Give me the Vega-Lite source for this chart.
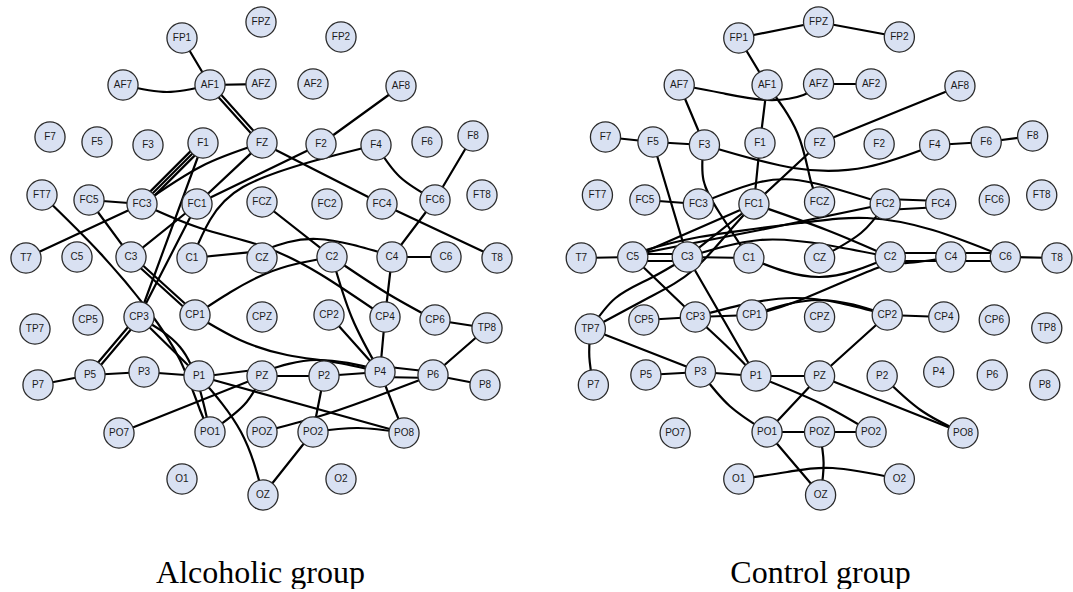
{
"$schema": "https://vega.github.io/schema/vega-lite/v6.json",
"padding": 0,
"background": "white",
"spacing": 40,
"bounds": "flush",
"config": {"view": {"stroke": null}},
"datasets": {
"nodes": [
{"n":"FP1","x":182,"y":38},{"n":"FPZ","x":261,"y":22},{"n":"FP2","x":341,"y":37},
{"n":"AF7","x":123,"y":85},{"n":"AF1","x":210,"y":85},{"n":"AFZ","x":261,"y":84},{"n":"AF2","x":313,"y":84},{"n":"AF8","x":401,"y":86},
{"n":"F7","x":50,"y":137},{"n":"F5","x":97,"y":142},{"n":"F3","x":148,"y":145},{"n":"F1","x":203,"y":143},{"n":"FZ","x":262,"y":143},{"n":"F2","x":321,"y":144},{"n":"F4","x":376,"y":145},{"n":"F6","x":427,"y":142},{"n":"F8","x":473,"y":136},
{"n":"FT7","x":42,"y":195},{"n":"FC5","x":89,"y":200},{"n":"FC3","x":142,"y":204},{"n":"FC1","x":197,"y":204},{"n":"FCZ","x":262,"y":202},{"n":"FC2","x":327,"y":204},{"n":"FC4","x":382,"y":204},{"n":"FC6","x":435,"y":200},{"n":"FT8","x":482,"y":195},
{"n":"T7","x":26,"y":258},{"n":"C5","x":77,"y":257},{"n":"C3","x":131,"y":257},{"n":"C1","x":192,"y":258},{"n":"CZ","x":262,"y":258},{"n":"C2","x":332,"y":257},{"n":"C4","x":392,"y":257},{"n":"C6","x":446,"y":257},{"n":"T8","x":497,"y":258},
{"n":"TP7","x":35,"y":329},{"n":"CP5","x":88,"y":320},{"n":"CP3","x":139,"y":317},{"n":"CP1","x":195,"y":315},{"n":"CPZ","x":262,"y":317},{"n":"CP2","x":329,"y":315},{"n":"CP4","x":385,"y":317},{"n":"CP6","x":435,"y":320},{"n":"TP8","x":487,"y":328},
{"n":"P7","x":38,"y":385},{"n":"P5","x":90,"y":375},{"n":"P3","x":144,"y":372},{"n":"P1","x":199,"y":376},{"n":"PZ","x":262,"y":376},{"n":"P2","x":324,"y":376},{"n":"P4","x":380,"y":372},{"n":"P6","x":433,"y":375},{"n":"P8","x":485,"y":385},
{"n":"PO7","x":119,"y":433},{"n":"PO1","x":210,"y":432},{"n":"POZ","x":262,"y":432},{"n":"PO2","x":313,"y":432},{"n":"PO8","x":404,"y":433},
{"n":"O1","x":182,"y":479},{"n":"OZ","x":263,"y":495},{"n":"O2","x":341,"y":479}
],
"alc": [
{"e":"L1","o":0,"x":182,"y":38},{"e":"L1","o":1,"x":210,"y":85},
{"e":"L2","o":0,"x":123,"y":85},{"e":"L2","o":1,"x":167,"y":92},{"e":"L2","o":2,"x":210,"y":85},
{"e":"L3","o":0,"x":210,"y":85},{"e":"L3","o":1,"x":261,"y":84},
{"e":"L4","o":0,"x":211.3,"y":83.8},{"e":"L4","o":1,"x":263.3,"y":141.8},
{"e":"L5","o":0,"x":208.7,"y":86.2},{"e":"L5","o":1,"x":260.7,"y":144.2},
{"e":"L6","o":0,"x":262,"y":143},{"e":"L6","o":1,"x":382,"y":204},
{"e":"L7","o":0,"x":401,"y":86},{"e":"L7","o":1,"x":321,"y":144},
{"e":"L8","o":0,"x":321,"y":144},{"e":"L8","o":1,"x":197,"y":204},
{"e":"L9","o":0,"x":376,"y":145},{"e":"L9","o":1,"x":310,"y":162},{"e":"L9","o":2,"x":243,"y":187},{"e":"L9","o":3,"x":210,"y":220},{"e":"L9","o":4,"x":192,"y":258},
{"e":"L10","o":0,"x":262,"y":143},{"e":"L10","o":1,"x":202,"y":166},{"e":"L10","o":2,"x":142,"y":204},
{"e":"L11","o":0,"x":200.9,"y":140.9},{"e":"L11","o":1,"x":139.9,"y":201.9},
{"e":"L12","o":0,"x":203,"y":143},{"e":"L12","o":1,"x":142,"y":204},
{"e":"L13","o":0,"x":205.1,"y":145.1},{"e":"L13","o":1,"x":144.1,"y":206.1},
{"e":"L14","o":0,"x":203,"y":143},{"e":"L14","o":1,"x":139,"y":317},
{"e":"L15","o":0,"x":197,"y":204},{"e":"L15","o":1,"x":139,"y":317},
{"e":"L16","o":0,"x":262,"y":143},{"e":"L16","o":1,"x":197,"y":204},
{"e":"L17","o":0,"x":131,"y":257},{"e":"L17","o":1,"x":197,"y":204},
{"e":"L18","o":0,"x":89,"y":200},{"e":"L18","o":1,"x":142,"y":204},
{"e":"L19","o":0,"x":26,"y":258},{"e":"L19","o":1,"x":142,"y":204},
{"e":"L20","o":0,"x":142,"y":204},{"e":"L20","o":1,"x":200,"y":228},{"e":"L20","o":2,"x":262,"y":246},{"e":"L20","o":3,"x":320,"y":274},{"e":"L20","o":4,"x":385,"y":317},
{"e":"L21","o":0,"x":42,"y":195},{"e":"L21","o":1,"x":100,"y":253},{"e":"L21","o":2,"x":148,"y":310},{"e":"L21","o":3,"x":180,"y":360},{"e":"L21","o":4,"x":200,"y":410},{"e":"L21","o":5,"x":210,"y":432},
{"e":"L22","o":0,"x":139,"y":317},{"e":"L22","o":1,"x":180,"y":347},{"e":"L22","o":2,"x":200,"y":390},{"e":"L22","o":3,"x":210,"y":432},
{"e":"L23","o":0,"x":139,"y":317},{"e":"L23","o":1,"x":199,"y":376},
{"e":"L24","o":0,"x":132.2,"y":255.7},{"e":"L24","o":1,"x":196.2,"y":313.7},
{"e":"L25","o":0,"x":129.8,"y":258.3},{"e":"L25","o":1,"x":193.8,"y":316.3},
{"e":"L26","o":0,"x":195,"y":315},{"e":"L26","o":1,"x":240,"y":340},{"e":"L26","o":2,"x":287,"y":355},{"e":"L26","o":3,"x":333,"y":362},{"e":"L26","o":4,"x":380,"y":372},
{"e":"L27","o":0,"x":89,"y":200},{"e":"L27","o":1,"x":131,"y":257},
{"e":"L28","o":0,"x":140.4,"y":318.2},{"e":"L28","o":1,"x":91.4,"y":376.2},
{"e":"L29","o":0,"x":137.6,"y":315.8},{"e":"L29","o":1,"x":88.6,"y":373.8},
{"e":"L30","o":0,"x":38,"y":385},{"e":"L30","o":1,"x":90,"y":375},
{"e":"L31","o":0,"x":90,"y":375},{"e":"L31","o":1,"x":144,"y":372},
{"e":"L32","o":0,"x":144,"y":372},{"e":"L32","o":1,"x":199,"y":376},
{"e":"L33","o":0,"x":199,"y":377},{"e":"L33","o":1,"x":262,"y":369},
{"e":"L34","o":0,"x":199,"y":376},{"e":"L34","o":1,"x":404,"y":433},
{"e":"L35","o":0,"x":262,"y":376},{"e":"L35","o":1,"x":324,"y":376},
{"e":"L36","o":0,"x":324,"y":376},{"e":"L36","o":1,"x":380,"y":372},
{"e":"L37","o":0,"x":380,"y":366},{"e":"L37","o":1,"x":433,"y":372},
{"e":"L38","o":0,"x":380,"y":377},{"e":"L38","o":1,"x":433,"y":378},
{"e":"L39","o":0,"x":262,"y":372},{"e":"L39","o":1,"x":317,"y":360},{"e":"L39","o":2,"x":380,"y":370},
{"e":"L40","o":0,"x":433,"y":375},{"e":"L40","o":1,"x":367,"y":400},{"e":"L40","o":2,"x":317,"y":417},{"e":"L40","o":3,"x":262,"y":432},
{"e":"L41","o":0,"x":380,"y":372},{"e":"L41","o":1,"x":404,"y":433},
{"e":"L42","o":0,"x":313,"y":432},{"e":"L42","o":1,"x":358,"y":428},{"e":"L42","o":2,"x":404,"y":433},
{"e":"L43","o":0,"x":324,"y":376},{"e":"L43","o":1,"x":313,"y":432},
{"e":"L44","o":0,"x":313,"y":432},{"e":"L44","o":1,"x":263,"y":495},
{"e":"L45","o":0,"x":199,"y":376},{"e":"L45","o":1,"x":241,"y":432},{"e":"L45","o":2,"x":263,"y":495},
{"e":"L46","o":0,"x":262,"y":376},{"e":"L46","o":1,"x":119,"y":433},
{"e":"L47","o":0,"x":262,"y":376},{"e":"L47","o":1,"x":244,"y":405},{"e":"L47","o":2,"x":210,"y":432},
{"e":"L48","o":0,"x":332,"y":257},{"e":"L48","o":1,"x":265,"y":274},{"e":"L48","o":2,"x":195,"y":315},
{"e":"L49","o":0,"x":262,"y":202},{"e":"L49","o":1,"x":332,"y":257},
{"e":"L50","o":0,"x":332,"y":257},{"e":"L50","o":1,"x":352,"y":318},{"e":"L50","o":2,"x":380,"y":372},
{"e":"L51","o":0,"x":329,"y":315},{"e":"L51","o":1,"x":380,"y":372},
{"e":"L52","o":0,"x":332,"y":257},{"e":"L52","o":1,"x":385,"y":292},{"e":"L52","o":2,"x":435,"y":320},
{"e":"L53","o":0,"x":192,"y":258},{"e":"L53","o":1,"x":262,"y":251},
{"e":"L54","o":0,"x":262,"y":251},{"e":"L54","o":1,"x":317,"y":239},{"e":"L54","o":2,"x":392,"y":256},
{"e":"L55","o":0,"x":435,"y":200},{"e":"L55","o":1,"x":392,"y":257},
{"e":"L56","o":0,"x":392,"y":257},{"e":"L56","o":1,"x":385,"y":317},
{"e":"L57","o":0,"x":385,"y":317},{"e":"L57","o":1,"x":380,"y":372},
{"e":"L58","o":0,"x":392,"y":257},{"e":"L58","o":1,"x":446,"y":257},
{"e":"L59","o":0,"x":382,"y":204},{"e":"L59","o":1,"x":497,"y":258},
{"e":"L60","o":0,"x":376,"y":145},{"e":"L60","o":1,"x":400,"y":177},{"e":"L60","o":2,"x":435,"y":200},
{"e":"L61","o":0,"x":473,"y":136},{"e":"L61","o":1,"x":435,"y":200},
{"e":"L62","o":0,"x":435,"y":320},{"e":"L62","o":1,"x":487,"y":328},
{"e":"L63","o":0,"x":487,"y":328},{"e":"L63","o":1,"x":433,"y":375},
{"e":"L64","o":0,"x":433,"y":375},{"e":"L64","o":1,"x":485,"y":385}
],
"ctl": [
{"e":"R1","o":0,"x":182,"y":38},{"e":"R1","o":1,"x":261,"y":22},
{"e":"R2","o":0,"x":261,"y":22},{"e":"R2","o":1,"x":341,"y":37},
{"e":"R3","o":0,"x":182,"y":38},{"e":"R3","o":1,"x":210,"y":85},
{"e":"R4","o":0,"x":123,"y":85},{"e":"R4","o":1,"x":165,"y":93},{"e":"R4","o":2,"x":210,"y":100},{"e":"R4","o":3,"x":246,"y":95},{"e":"R4","o":4,"x":261,"y":84},
{"e":"R5","o":0,"x":123,"y":85},{"e":"R5","o":1,"x":148,"y":145},
{"e":"R6","o":0,"x":210,"y":85},{"e":"R6","o":1,"x":203,"y":143},
{"e":"R7","o":0,"x":210,"y":85},{"e":"R7","o":1,"x":240,"y":133},{"e":"R7","o":2,"x":253,"y":180},{"e":"R7","o":3,"x":262,"y":202},
{"e":"R8","o":0,"x":50,"y":137},{"e":"R8","o":1,"x":97,"y":142},
{"e":"R9","o":0,"x":97,"y":142},{"e":"R9","o":1,"x":148,"y":145},
{"e":"R10","o":0,"x":148,"y":145},{"e":"R10","o":1,"x":236,"y":168},{"e":"R10","o":2,"x":309,"y":167},{"e":"R10","o":3,"x":376,"y":145},
{"e":"R11","o":0,"x":376,"y":145},{"e":"R11","o":1,"x":427,"y":142},
{"e":"R12","o":0,"x":427,"y":142},{"e":"R12","o":1,"x":473,"y":136},
{"e":"R13","o":0,"x":261,"y":84},{"e":"R13","o":1,"x":313,"y":84},
{"e":"R14","o":0,"x":262,"y":143},{"e":"R14","o":1,"x":401,"y":86},
{"e":"R15","o":0,"x":262,"y":143},{"e":"R15","o":1,"x":197,"y":204},
{"e":"R16","o":0,"x":203,"y":143},{"e":"R16","o":1,"x":197,"y":204},
{"e":"R17","o":0,"x":97,"y":142},{"e":"R17","o":1,"x":131,"y":257},
{"e":"R18","o":0,"x":147,"y":145},{"e":"R18","o":1,"x":147,"y":180},{"e":"R18","o":2,"x":163,"y":213},{"e":"R18","o":3,"x":192,"y":258},
{"e":"R19","o":0,"x":89,"y":200},{"e":"R19","o":1,"x":142,"y":204},
{"e":"R20","o":0,"x":142,"y":204},{"e":"R20","o":1,"x":203,"y":182},{"e":"R20","o":2,"x":256,"y":183},{"e":"R20","o":3,"x":327,"y":204},
{"e":"R21","o":0,"x":327,"y":199},{"e":"R21","o":1,"x":382,"y":201},
{"e":"R22","o":0,"x":327,"y":210},{"e":"R22","o":1,"x":382,"y":207},
{"e":"R23","o":0,"x":327,"y":204},{"e":"R23","o":1,"x":303,"y":233},{"e":"R23","o":2,"x":262,"y":258},
{"e":"R24","o":0,"x":197,"y":204},{"e":"R24","o":1,"x":269,"y":230},{"e":"R24","o":2,"x":332,"y":257},
{"e":"R25","o":0,"x":26,"y":258},{"e":"R25","o":1,"x":77,"y":257},
{"e":"R26","o":0,"x":77,"y":254},{"e":"R26","o":1,"x":131,"y":254},
{"e":"R27","o":0,"x":77,"y":261},{"e":"R27","o":1,"x":131,"y":261},
{"e":"R28","o":0,"x":77,"y":257},{"e":"R28","o":1,"x":197,"y":204},
{"e":"R29","o":0,"x":131,"y":257},{"e":"R29","o":1,"x":197,"y":204},
{"e":"R30","o":0,"x":77,"y":255},{"e":"R30","o":1,"x":203,"y":230},{"e":"R30","o":2,"x":327,"y":204},
{"e":"R31","o":0,"x":77,"y":254},{"e":"R31","o":1,"x":143,"y":237},{"e":"R31","o":2,"x":243,"y":223},{"e":"R31","o":3,"x":309,"y":218},{"e":"R31","o":4,"x":374,"y":230},{"e":"R31","o":5,"x":446,"y":257},
{"e":"R32","o":0,"x":131,"y":257},{"e":"R32","o":1,"x":203,"y":240},{"e":"R32","o":2,"x":269,"y":245},{"e":"R32","o":3,"x":332,"y":257},
{"e":"R33","o":0,"x":131,"y":257},{"e":"R33","o":1,"x":192,"y":258},
{"e":"R34","o":0,"x":192,"y":258},{"e":"R34","o":1,"x":262,"y":277},{"e":"R34","o":2,"x":332,"y":257},
{"e":"R35","o":0,"x":332,"y":253},{"e":"R35","o":1,"x":392,"y":253},
{"e":"R36","o":0,"x":332,"y":261},{"e":"R36","o":1,"x":392,"y":261},
{"e":"R37","o":0,"x":195,"y":315},{"e":"R37","o":1,"x":243,"y":300},{"e":"R37","o":2,"x":319,"y":268},{"e":"R37","o":3,"x":349,"y":263},{"e":"R37","o":4,"x":392,"y":257},
{"e":"R38","o":0,"x":392,"y":253},{"e":"R38","o":1,"x":446,"y":253},
{"e":"R39","o":0,"x":392,"y":261},{"e":"R39","o":1,"x":446,"y":261},
{"e":"R40","o":0,"x":446,"y":257},{"e":"R40","o":1,"x":497,"y":258},
{"e":"R41","o":0,"x":35,"y":329},{"e":"R41","o":1,"x":60,"y":298},{"e":"R41","o":2,"x":95,"y":278},{"e":"R41","o":3,"x":131,"y":257},
{"e":"R42","o":0,"x":35,"y":329},{"e":"R42","o":1,"x":94,"y":297},{"e":"R42","o":2,"x":137,"y":270},{"e":"R42","o":3,"x":172,"y":232},{"e":"R42","o":4,"x":197,"y":204},
{"e":"R43","o":0,"x":77,"y":257},{"e":"R43","o":1,"x":139,"y":317},
{"e":"R44","o":0,"x":131,"y":257},{"e":"R44","o":1,"x":199,"y":376},
{"e":"R45","o":0,"x":88,"y":320},{"e":"R45","o":1,"x":139,"y":317},
{"e":"R46","o":0,"x":139,"y":317},{"e":"R46","o":1,"x":195,"y":315},
{"e":"R47","o":0,"x":139,"y":317},{"e":"R47","o":1,"x":236,"y":298},{"e":"R47","o":2,"x":329,"y":315},
{"e":"R48","o":0,"x":195,"y":315},{"e":"R48","o":1,"x":262,"y":300},{"e":"R48","o":2,"x":329,"y":315},
{"e":"R49","o":0,"x":329,"y":315},{"e":"R49","o":1,"x":385,"y":317},
{"e":"R50","o":0,"x":329,"y":315},{"e":"R50","o":1,"x":262,"y":376},
{"e":"R51","o":0,"x":139,"y":317},{"e":"R51","o":1,"x":173,"y":349},{"e":"R51","o":2,"x":199,"y":376},
{"e":"R52","o":0,"x":35,"y":329},{"e":"R52","o":1,"x":144,"y":372},
{"e":"R53","o":0,"x":35,"y":329},{"e":"R53","o":1,"x":34,"y":357},{"e":"R53","o":2,"x":38,"y":385},
{"e":"R54","o":0,"x":90,"y":375},{"e":"R54","o":1,"x":144,"y":372},
{"e":"R55","o":0,"x":144,"y":372},{"e":"R55","o":1,"x":199,"y":376},
{"e":"R56","o":0,"x":199,"y":376},{"e":"R56","o":1,"x":262,"y":376},
{"e":"R57","o":0,"x":144,"y":372},{"e":"R57","o":1,"x":173,"y":406},{"e":"R57","o":2,"x":210,"y":432},
{"e":"R58","o":0,"x":199,"y":376},{"e":"R58","o":1,"x":262,"y":403},{"e":"R58","o":2,"x":313,"y":432},
{"e":"R59","o":0,"x":262,"y":376},{"e":"R59","o":1,"x":404,"y":433},
{"e":"R60","o":0,"x":324,"y":376},{"e":"R60","o":1,"x":362,"y":410},{"e":"R60","o":2,"x":404,"y":433},
{"e":"R61","o":0,"x":262,"y":376},{"e":"R61","o":1,"x":210,"y":432},
{"e":"R62","o":0,"x":210,"y":432},{"e":"R62","o":1,"x":262,"y":432},
{"e":"R63","o":0,"x":262,"y":432},{"e":"R63","o":1,"x":313,"y":432},
{"e":"R64","o":0,"x":210,"y":432},{"e":"R64","o":1,"x":263,"y":495},
{"e":"R65","o":0,"x":262,"y":432},{"e":"R65","o":1,"x":266,"y":463},{"e":"R65","o":2,"x":263,"y":495},
{"e":"R66","o":0,"x":182,"y":479},{"e":"R66","o":1,"x":230,"y":472},{"e":"R66","o":2,"x":275,"y":468},{"e":"R66","o":3,"x":341,"y":479}
]
},
"hconcat": [
{
"width": 515, "height": 520,
"title": {"text": "Alcoholic group", "orient": "bottom", "anchor": "middle", "font": "Liberation Serif", "fontSize": 32, "fontWeight": "normal", "color": "#000", "baseline": "alphabetic", "offset": 63, "dx": 3},
"layer": [
{"data": {"name": "alc"}, "mark": {"type": "line", "interpolate": "natural", "stroke": "#000", "strokeWidth": 2.2, "strokeCap": "round"},
 "encoding": {"x": {"field": "x", "type": "quantitative", "scale": {"domain": [0, 515], "nice": false, "zero": false}, "axis": null},
  "y": {"field": "y", "type": "quantitative", "scale": {"domain": [0, 520], "reverse": true, "nice": false, "zero": false}, "axis": null},
  "detail": {"field": "e", "type": "nominal"}, "order": {"field": "o", "type": "quantitative"}}},
{"data": {"name": "nodes"}, "mark": {"type": "point", "shape": "circle", "filled": true, "size": 908, "fill": "#d9e1f2", "stroke": "#2a2a2a", "strokeWidth": 1.3, "opacity": 1, "fillOpacity": 1, "strokeOpacity": 1},
 "encoding": {"x": {"field": "x", "type": "quantitative", "scale": {"domain": [0, 515], "nice": false, "zero": false}, "axis": null},
  "y": {"field": "y", "type": "quantitative", "scale": {"domain": [0, 520], "reverse": true, "nice": false, "zero": false}, "axis": null}}},
{"data": {"name": "nodes"}, "mark": {"type": "text", "font": "Liberation Sans", "fontSize": 10, "color": "#1a1a1a"},
 "encoding": {"x": {"field": "x", "type": "quantitative", "scale": {"domain": [0, 515], "nice": false, "zero": false}, "axis": null},
  "y": {"field": "y", "type": "quantitative", "scale": {"domain": [0, 520], "reverse": true, "nice": false, "zero": false}, "axis": null},
  "text": {"field": "n", "type": "nominal"}}}
]
},
{
"width": 515, "height": 520,
"title": {"text": "Control group", "orient": "bottom", "anchor": "middle", "font": "Liberation Serif", "fontSize": 32, "fontWeight": "normal", "color": "#000", "baseline": "alphabetic", "offset": 63, "dx": 8},
"layer": [
{"data": {"name": "ctl"}, "mark": {"type": "line", "interpolate": "natural", "stroke": "#000", "strokeWidth": 2.2, "strokeCap": "round"},
 "encoding": {"x": {"field": "x", "type": "quantitative", "scale": {"domain": [0, 510], "nice": false, "zero": false}, "axis": null},
  "y": {"field": "y", "type": "quantitative", "scale": {"domain": [0, 520], "reverse": true, "nice": false, "zero": false}, "axis": null},
  "detail": {"field": "e", "type": "nominal"}, "order": {"field": "o", "type": "quantitative"}}},
{"data": {"name": "nodes"}, "mark": {"type": "point", "shape": "circle", "filled": true, "size": 908, "fill": "#d9e1f2", "stroke": "#2a2a2a", "strokeWidth": 1.3, "opacity": 1, "fillOpacity": 1, "strokeOpacity": 1},
 "encoding": {"x": {"field": "x", "type": "quantitative", "scale": {"domain": [0, 510], "nice": false, "zero": false}, "axis": null},
  "y": {"field": "y", "type": "quantitative", "scale": {"domain": [0, 520], "reverse": true, "nice": false, "zero": false}, "axis": null}}},
{"data": {"name": "nodes"}, "mark": {"type": "text", "font": "Liberation Sans", "fontSize": 10, "color": "#1a1a1a"},
 "encoding": {"x": {"field": "x", "type": "quantitative", "scale": {"domain": [0, 510], "nice": false, "zero": false}, "axis": null},
  "y": {"field": "y", "type": "quantitative", "scale": {"domain": [0, 520], "reverse": true, "nice": false, "zero": false}, "axis": null},
  "text": {"field": "n", "type": "nominal"}}}
]
}
]
}
